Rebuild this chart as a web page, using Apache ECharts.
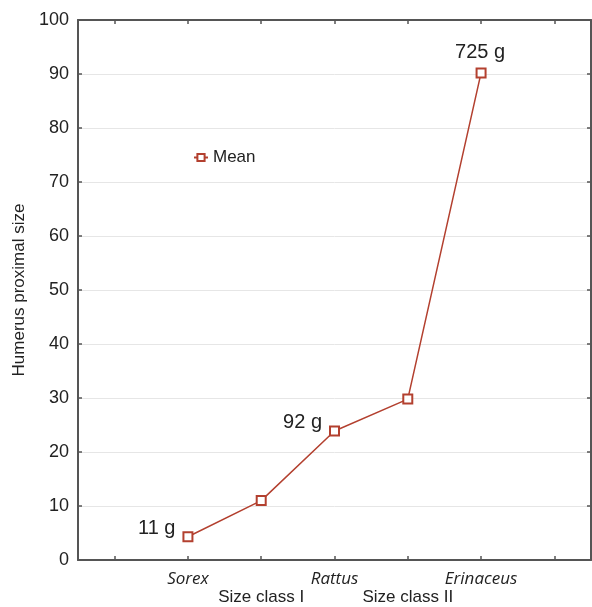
<!DOCTYPE html>
<html>
<head>
<meta charset="utf-8">
<script src="https://cdn.jsdelivr.net/npm/echarts@6/dist/echarts.min.js"></script>
<style>
  html, body { margin: 0; padding: 0; background: #fff; }
  #chart { width: 592px; height: 607px; }
</style>
</head>
<body>
<div id="chart"></div>
<script>
// categories on the x axis (empty slots at both ends)
const categories = ["", "Sorex", "Size class I", "Rattus", "Size class II", "Erinaceus", ""];
// mean humerus proximal size
const meanValues = ["-", 4.3, 11, 23.9, 29.8, 90.2, "-"];
// body mass annotations
const massLabels = ["", "11 g", "", "92 g", "", "725 g", ""];
const yTicks = [0, 10, 20, 30, 40, 50, 60, 70, 80, 90, 100];

const red = "#b3402f";
const axisColor = "#555555";
const font = "Liberation Sans, Arial, sans-serif";

const chart = echarts.init(document.getElementById("chart"));

const seriesData = meanValues.map((v, i) => {
  const item = { value: v };
  if (massLabels[i]) {
    const top = i === 5;
    item.label = {
      show: true,
      formatter: massLabels[i],
      position: top ? "top" : "left",
      distance: top ? 5 : 7,
      offset: top ? [-1, 0] : [0, -8],
    };
  }
  return item;
});

const option = {
  animation: false,
  grid: { left: 78, right: 1, top: 20, bottom: 47 },
  legend: {
    left: 188,
    top: 144,
    itemWidth: 14,
    itemHeight: 9,
    itemGap: 5,
    textStyle: { fontFamily: font, fontSize: 17, color: "#222" },
    data: ["Mean"],
  },
  xAxis: [
    {
      type: "category",
      data: categories,
      boundaryGap: true,
      axisLine: { onZero: false, lineStyle: { color: axisColor, width: 2 } },
      axisTick: { show: true, inside: true, length: 4, alignWithLabel: true, interval: 0, lineStyle: { color: axisColor, width: 1.5 } },
      axisLabel: {
        interval: 0,
        margin: 11,
        formatter: function (value, index) {
          if (!value) return "";
          return index % 2 === 1 ? "{i|" + value + "}" : "{n|" + value + "}";
        },
        rich: {
          i: { fontFamily: "Open Sans, sans-serif", fontStyle: "italic", fontSize: 17, color: "#222" },
          n: { fontFamily: font, fontSize: 17, color: "#222", padding: [18, 0, 0, 0] },
        },
      },
      splitLine: { show: false },
    },
    {
      type: "category",
      position: "top",
      data: categories,
      boundaryGap: true,
      axisLine: { onZero: false, lineStyle: { color: axisColor, width: 2 } },
      axisTick: { show: true, inside: true, length: 4, alignWithLabel: true, interval: 0, lineStyle: { color: axisColor, width: 1.5 } },
      axisLabel: { show: false },
    },
  ],
  yAxis: [
    {
      type: "value",
      min: yTicks[0],
      max: yTicks[yTicks.length - 1],
      interval: 10,
      name: "Humerus proximal size",
      nameLocation: "middle",
      nameGap: 50,
      nameTextStyle: { fontFamily: font, fontSize: 17, color: "#222" },
      axisLine: { show: true, onZero: false, lineStyle: { color: axisColor, width: 2 } },
      axisTick: { show: true, inside: true, length: 4, lineStyle: { color: axisColor, width: 1.5 } },
      axisLabel: { margin: 9, fontFamily: font, fontSize: 18, color: "#222" },
      splitLine: { lineStyle: { color: "#e6e6e6", width: 1 } },
    },
    {
      type: "value",
      position: "right",
      min: yTicks[0],
      max: yTicks[yTicks.length - 1],
      interval: 10,
      axisLine: { show: true, onZero: false, lineStyle: { color: axisColor, width: 2 } },
      axisTick: { show: true, inside: true, length: 4, lineStyle: { color: axisColor, width: 1.5 } },
      axisLabel: { show: false },
      splitLine: { show: false },
    },
  ],
  series: [
    {
      name: "Mean",
      type: "line",
      data: seriesData,
      symbol: "emptyRect",
      symbolSize: 9,
      lineStyle: { color: red, width: 1.5 },
      itemStyle: { color: red, borderWidth: 1.5 },
      label: { fontFamily: font, fontSize: 20, color: "#222" },
      z: 5,
    },
  ],
};

chart.setOption(option);
</script>
</body>
</html>
